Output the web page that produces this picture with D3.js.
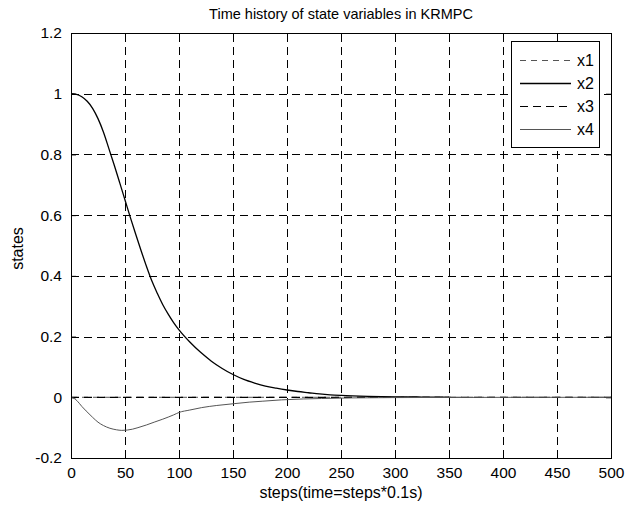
<!DOCTYPE html>
<html>
<head>
<meta charset="utf-8">
<script src="https://cdn.jsdelivr.net/npm/d3@7/dist/d3.min.js"></script>
<style>
  html, body { margin: 0; padding: 0; background: #fff; }
  svg { display: block; font-family: "Liberation Sans", Arial, sans-serif; }
</style>
</head>
<body>
<svg id="chart" width="628" height="506"></svg>
<script>
// State trajectories of the KRMPC closed loop, sampled at selected steps
const stepsX2 = [0,5,10,15,20,25,30,35,40,45,50,55,60,65,70,75,80,85,90,95,100,110,120,130,140,150,160,170,180,190,200,210,220,230,240,250,275,300,325,350];
const valuesX2 = [1.0,0.998,0.99,0.975,0.952,0.918,0.874,0.82,0.765,0.708,0.65,0.592,0.536,0.482,0.43,0.382,0.342,0.305,0.274,0.246,0.222,0.182,0.148,0.119,0.095,0.075,0.059,0.047,0.037,0.030,0.024,0.019,0.015,0.011,0.008,0.006,0.003,0.0015,0.0008,0.0004];

const stepsX4 = [0,3,6,10,14,20,25,30,36,42,47,52,57,62,70,77,85,95,100,110,121,135,151,165,177,195,215,232,260,300,350,400,450,500];
const valuesX4 = [0,-0.004,-0.013,-0.03,-0.045,-0.066,-0.082,-0.093,-0.102,-0.107,-0.109,-0.108,-0.105,-0.100,-0.091,-0.082,-0.072,-0.058,-0.050,-0.042,-0.034,-0.027,-0.021,-0.016,-0.013,-0.0085,-0.0055,-0.004,-0.002,-0.001,-0.0005,-0.0002,-0.0001,0];

const stepsFlat = [0,50,100,150,200,250,300,350,400,450,500];
const valuesX1 = [0,0,0,0,0,0,0,0,0,0,0];
const valuesX3 = [0,0,0,0,0,0,0,0,0,0,0];

const xTicks = [0,50,100,150,200,250,300,350,400,450,500];
const yTicks = [-0.2,0,0.2,0.4,0.6,0.8,1,1.2];
const yTickLabels = ["-0.2","0","0.2","0.4","0.6","0.8","1","1.2"];
const seriesNames = ["x1","x2","x3","x4"];

const svg = d3.select("#chart");
const plotLeft = 71, plotRight = 611, plotTop = 33, plotBottom = 458;

const x = d3.scaleLinear().domain([0, 500]).range([plotLeft, plotRight]);
const y = d3.scaleLinear().domain([-0.2, 1.2]).range([plotBottom, plotTop]);

// dashed grid
const grid = svg.append("g").attr("stroke", "#000").attr("stroke-width", 1)
  .attr("stroke-dasharray", "8,5").attr("fill", "none");
grid.selectAll("line.v").data(xTicks.slice(1, -1)).enter().append("line")
  .attr("x1", d => Math.round(x(d)) + 0.5).attr("x2", d => Math.round(x(d)) + 0.5)
  .attr("y1", plotBottom).attr("y2", plotTop);
grid.selectAll("line.h").data(yTicks.slice(1, -1)).enter().append("line")
  .attr("y1", d => Math.round(y(d)) + 0.5).attr("y2", d => Math.round(y(d)) + 0.5)
  .attr("x1", plotLeft).attr("x2", plotRight);

// axes with inward ticks on all four sides
const axB = d3.axisBottom(x).tickValues(xTicks).tickSize(-5).tickPadding(9).tickFormat(d3.format("d"));
const axT = d3.axisTop(x).tickValues(xTicks).tickSize(-5).tickFormat("");
const axL = d3.axisLeft(y).tickValues(yTicks).tickSize(-5).tickPadding(9)
  .tickFormat((d, i) => yTickLabels[i]);
const axR = d3.axisRight(y).tickValues(yTicks).tickSize(-5).tickFormat("");

function styleAxis(g) {
  g.select(".domain").remove();
  g.selectAll("line").attr("stroke", "#000");
  g.selectAll("text").attr("fill", "#000").attr("font-size", 15.5)
    .attr("font-family", "'Liberation Sans', Arial, sans-serif");
}
svg.append("g").attr("transform", `translate(0,${plotBottom})`).call(axB).call(styleAxis);
svg.append("g").attr("transform", `translate(0,${plotTop})`).call(axT).call(styleAxis);
svg.append("g").attr("transform", `translate(${plotLeft},0)`).call(axL).call(styleAxis);
svg.append("g").attr("transform", `translate(${plotRight},0)`).call(axR).call(styleAxis);

// series
const line = d3.line().x(d => x(d[0])).y(d => y(d[1])).curve(d3.curveMonotoneX);
const zip = (a, b) => a.map((v, i) => [v, b[i]]);

const series = [
  { name: "x1", data: zip(stepsFlat, valuesX1), stroke: "#555", width: 1, dash: "6,5" },
  { name: "x2", data: zip(stepsX2, valuesX2), stroke: "#000", width: 1.3, dash: null },
  { name: "x3", data: zip(stepsFlat, valuesX3), stroke: "#000", width: 1.2, dash: "8,5" },
  { name: "x4", data: zip(stepsX4, valuesX4), stroke: "#555", width: 1, dash: null }
];

const plot = svg.append("g");
series.forEach(s => {
  plot.append("path").datum(s.data)
    .attr("d", line)
    .attr("fill", "none")
    .attr("stroke", s.stroke)
    .attr("stroke-width", s.width)
    .attr("stroke-dasharray", s.dash);
});

// axes box
svg.append("rect")
  .attr("x", plotLeft + 0.5).attr("y", plotTop + 0.5)
  .attr("width", plotRight - plotLeft).attr("height", plotBottom - plotTop)
  .attr("fill", "none").attr("stroke", "#000").attr("stroke-width", 1);

// legend
const lg = svg.append("g");
lg.append("rect").attr("x", 511.5).attr("y", 41.5).attr("width", 88).attr("height", 106)
  .attr("fill", "#fff").attr("stroke", "#000").attr("stroke-width", 1);
const rowY = [60, 83, 106, 129];
series.forEach((s, i) => {
  lg.append("line").attr("x1", 520).attr("x2", 571)
    .attr("y1", rowY[i] + 0.5).attr("y2", rowY[i] + 0.5)
    .attr("stroke", s.stroke).attr("stroke-width", s.width)
    .attr("stroke-dasharray", s.dash);
  lg.append("text").attr("x", 577).attr("y", rowY[i] + 6)
    .attr("font-size", 16).attr("fill", "#000").text(seriesNames[i]);
});

// titles
svg.append("text").attr("x", (plotLeft + plotRight) / 2).attr("y", 19)
  .attr("text-anchor", "middle").attr("font-size", 14.5).text("Time history of state variables in KRMPC");
svg.append("text").attr("x", (plotLeft + plotRight) / 2).attr("y", 498)
  .attr("text-anchor", "middle").attr("font-size", 16).text("steps(time=steps*0.1s)");
svg.append("text").attr("transform", `translate(23,${(plotTop + plotBottom) / 2 + 3}) rotate(-90)`)
  .attr("text-anchor", "middle").attr("font-size", 16).text("states");
</script>
</body>
</html>
